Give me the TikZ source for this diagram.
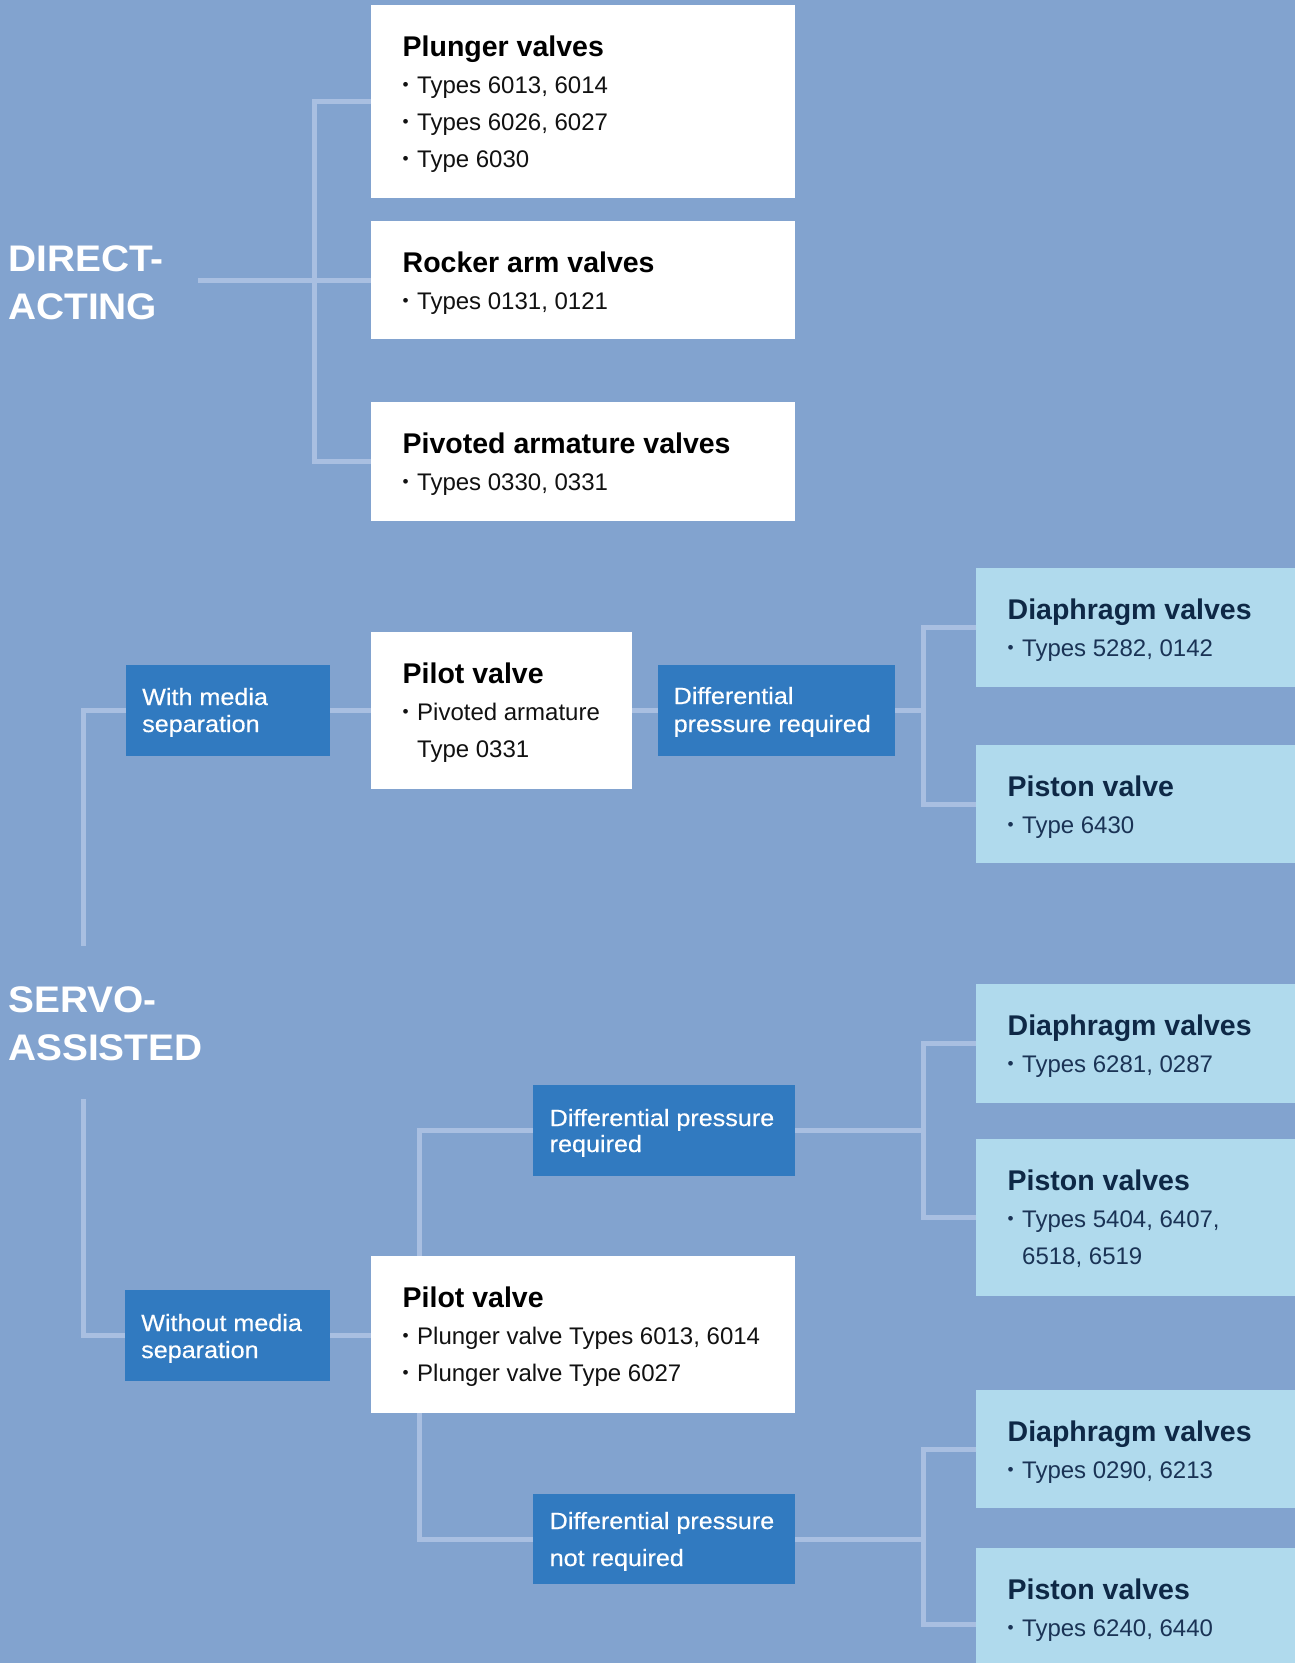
\documentclass[tikz,border=0pt]{standalone}
\usepackage{fontspec}
\setmainfont{Liberation Sans}
\newfontfamily\bluefam{Liberation Sans}[FakeStretch=1.07,FakeBold=0.4]
\newfontfamily\headfam{Liberation Sans}[FakeStretch=1.05]
\usetikzlibrary{calc}
\definecolor{bgc}{HTML}{82A3CF}
\definecolor{bluec}{HTML}{317AC0}
\definecolor{lightc}{HTML}{B0DAED}
\definecolor{connc}{HTML}{A9BFE1}
\definecolor{navyc}{HTML}{0E2846}
\definecolor{navytxt}{HTML}{1A3355}
\definecolor{bodyc}{HTML}{111111}
\newcommand{\ttlfont}{\bfseries\fontsize{28.5}{32}\selectfont}
\newcommand{\bodyfont}{\fontsize{24}{30}\selectfont}
\newcommand{\blfont}{\bluefam\fontsize{23.5}{28}\selectfont}
\newcommand{\headfont}{\headfam\bfseries\fontsize{37}{44}\selectfont}
\newcommand{\bul}{\makebox[14.5pt][l]{\raisebox{2.2pt}{\scalebox{0.72}{•}}}}
\begin{document}
\begin{tikzpicture}[x=1pt,y=-1pt,
  boxbase/.style={anchor=north west, inner sep=0pt, outer sep=0pt, draw=none},
  whitebox/.style={boxbase, fill=white},
  lightbox/.style={boxbase, fill=lightc},
  bluebox/.style={boxbase, fill=bluec},
  ttl/.style={anchor=base west, inner sep=0pt, font=\ttlfont, text=black},
  txt/.style={anchor=base west, inner sep=0pt, font=\bodyfont, text=bodyc},
  lttl/.style={ttl, text=navyc},
  ltxt/.style={txt, text=navytxt},
  btxt/.style={anchor=base west, inner sep=0pt, font=\blfont, text=white},
  head/.style={anchor=base west, inner sep=0pt, font=\headfont, text=white},
  conn/.style={draw=connc, line width=5pt, line join=miter}]
\useasboundingbox (0,0) rectangle (1295,1663);
\clip (0,0) rectangle (1295,1663);
\fill[bgc] (0,0) rectangle (1295,1663);

% ---------- headings ----------
\node[head] (da1) at (8,271) {DIRECT-};
\node[head] (da2) at (8,319) {ACTING};
\node[head] (sa1) at (8,1012) {SERVO-};
\node[head] (sa2) at (8,1060) {ASSISTED};

% ---------- direct-acting boxes ----------
\node[whitebox, minimum width=424pt, minimum height=193pt] (plunger) at (371,5) {};
\node[ttl] (plungerT) at (402.5,56) {Plunger valves};
\node[txt] (plunger1) at (402.5,93) {\bul Types 6013, 6014};
\node[txt] (plunger2) at (402.5,130) {\bul Types 6026, 6027};
\node[txt] (plunger3) at (402.5,167) {\bul Type 6030};

\node[whitebox, minimum width=424pt, minimum height=118pt] (rocker) at (371,221) {};
\node[ttl] (rockerT) at (402.5,272) {Rocker arm valves};
\node[txt] (rocker1) at (402.5,309) {\bul Types 0131, 0121};

\node[whitebox, minimum width=424pt, minimum height=119pt] (pivoted) at (371,402) {};
\node[ttl] (pivotedT) at (402.5,453) {Pivoted armature valves};
\node[txt] (pivoted1) at (402.5,490) {\bul Types 0330, 0331};

% ---------- servo: with media separation ----------
\node[bluebox, minimum width=204pt, minimum height=91pt] (with) at (126,665) {};
\node[btxt] (with1) at (142,705) {With media};
\node[btxt] (with2) at (142,732) {separation};

\node[whitebox, minimum width=261pt, minimum height=157pt] (pilotA) at (371,632) {};
\node[ttl] (pilotAT) at (402.5,683) {Pilot valve};
\node[txt] (pilotA1) at (402.5,720) {\bul Pivoted armature};
\node[txt] (pilotA2) at (417,757) {Type 0331};

\node[bluebox, minimum width=237pt, minimum height=91pt] (diffA) at (658,665) {};
\node[btxt] (diffA1) at (673.5,704) {Differential};
\node[btxt] (diffA2) at (673.5,732) {pressure required};

\node[lightbox, minimum width=319pt, minimum height=119pt] (diaphA) at (976,568) {};
\node[lttl] (diaphAT) at (1007.5,619) {Diaphragm valves};
\node[ltxt] (diaphA1) at (1007.5,656) {\bul Types 5282, 0142};

\node[lightbox, minimum width=319pt, minimum height=118pt] (pistonA) at (976,745) {};
\node[lttl] (pistonAT) at (1007.5,796) {Piston valve};
\node[ltxt] (pistonA1) at (1007.5,833) {\bul Type 6430};

% ---------- servo: without media separation ----------
\node[bluebox, minimum width=205pt, minimum height=91pt] (without) at (125,1290) {};
\node[btxt] (without1) at (141,1331) {Without media};
\node[btxt] (without2) at (141,1358) {separation};

\node[whitebox, minimum width=424pt, minimum height=157pt] (pilotB) at (371,1256) {};
\node[ttl] (pilotBT) at (402.5,1307) {Pilot valve};
\node[txt] (pilotB1) at (402.5,1344) {\bul Plunger valve Types 6013, 6014};
\node[txt] (pilotB2) at (402.5,1381) {\bul Plunger valve Type 6027};

\node[bluebox, minimum width=262pt, minimum height=91pt] (diffB) at (533,1085) {};
\node[btxt] (diffB1) at (549.5,1126) {Differential pressure};
\node[btxt] (diffB2) at (549.5,1152) {required};

\node[bluebox, minimum width=262pt, minimum height=90pt] (diffC) at (533,1494) {};
\node[btxt] (diffC1) at (549.5,1529) {Differential pressure};
\node[btxt] (diffC2) at (549.5,1566) {not required};

\node[lightbox, minimum width=319pt, minimum height=119pt] (diaphB) at (976,984) {};
\node[lttl] (diaphBT) at (1007.5,1035) {Diaphragm valves};
\node[ltxt] (diaphB1) at (1007.5,1072) {\bul Types 6281, 0287};

\node[lightbox, minimum width=319pt, minimum height=157pt] (pistonB) at (976,1139) {};
\node[lttl] (pistonBT) at (1007.5,1190) {Piston valves};
\node[ltxt] (pistonB1) at (1007.5,1227) {\bul Types 5404, 6407,};
\node[ltxt] (pistonB2) at (1022,1264) {6518, 6519};

\node[lightbox, minimum width=319pt, minimum height=118pt] (diaphC) at (976,1390) {};
\node[lttl] (diaphCT) at (1007.5,1441) {Diaphragm valves};
\node[ltxt] (diaphC1) at (1007.5,1478) {\bul Types 0290, 6213};

\node[lightbox, minimum width=319pt, minimum height=152pt] (pistonC) at (976,1548) {};
\node[lttl] (pistonCT) at (1007.5,1599) {Piston valves};
\node[ltxt] (pistonC1) at (1007.5,1636) {\bul Types 6240, 6440};

% ---------- connectors ----------
\coordinate (daStart) at ($(rocker.west)+(-173,0)$);
\coordinate (daJ) at ($(rocker.west)+(-57,0)$);
\draw[conn] (daStart) -- (rocker.west);
\draw[conn] (plunger.west) -| (daJ) |- (pivoted.west);

\coordinate (svTop) at (83,946);
\coordinate (svBot) at (83,1099);
\draw[conn] (with.west) -| (svTop);
\draw[conn] (without.west) -| (svBot);
\draw[conn] (with.east) -- (pilotA.west |- with.east);
\draw[conn] (pilotA.east |- with.east) -- (diffA.west);
\coordinate (jA) at ($(diffA.east)+(28,0)$);
\draw[conn] (diffA.east) -- (jA);
\draw[conn] (diaphA.west) -| (jA) |- (pistonA.west);

\draw[conn] (without.east) -- (pilotB.west |- without.east);
\draw[conn] (diffB.west) -| ([xshift=48pt]pilotB.north west);
\draw[conn] (diffC.west) -| ([xshift=48pt]pilotB.south west);
\coordinate (jB) at ($(diffB.east)+(128,0)$);
\draw[conn] (diffB.east) -- (jB);
\draw[conn] (diaphB.west) -| (jB) |- (pistonB.west);
\coordinate (jC) at ($(diffC.east)+(128,0)$);
\draw[conn] (diffC.east) -- (jC);
\draw[conn] (diaphC.west) -| (jC) |- (pistonC.west);
\end{tikzpicture}
\end{document}
